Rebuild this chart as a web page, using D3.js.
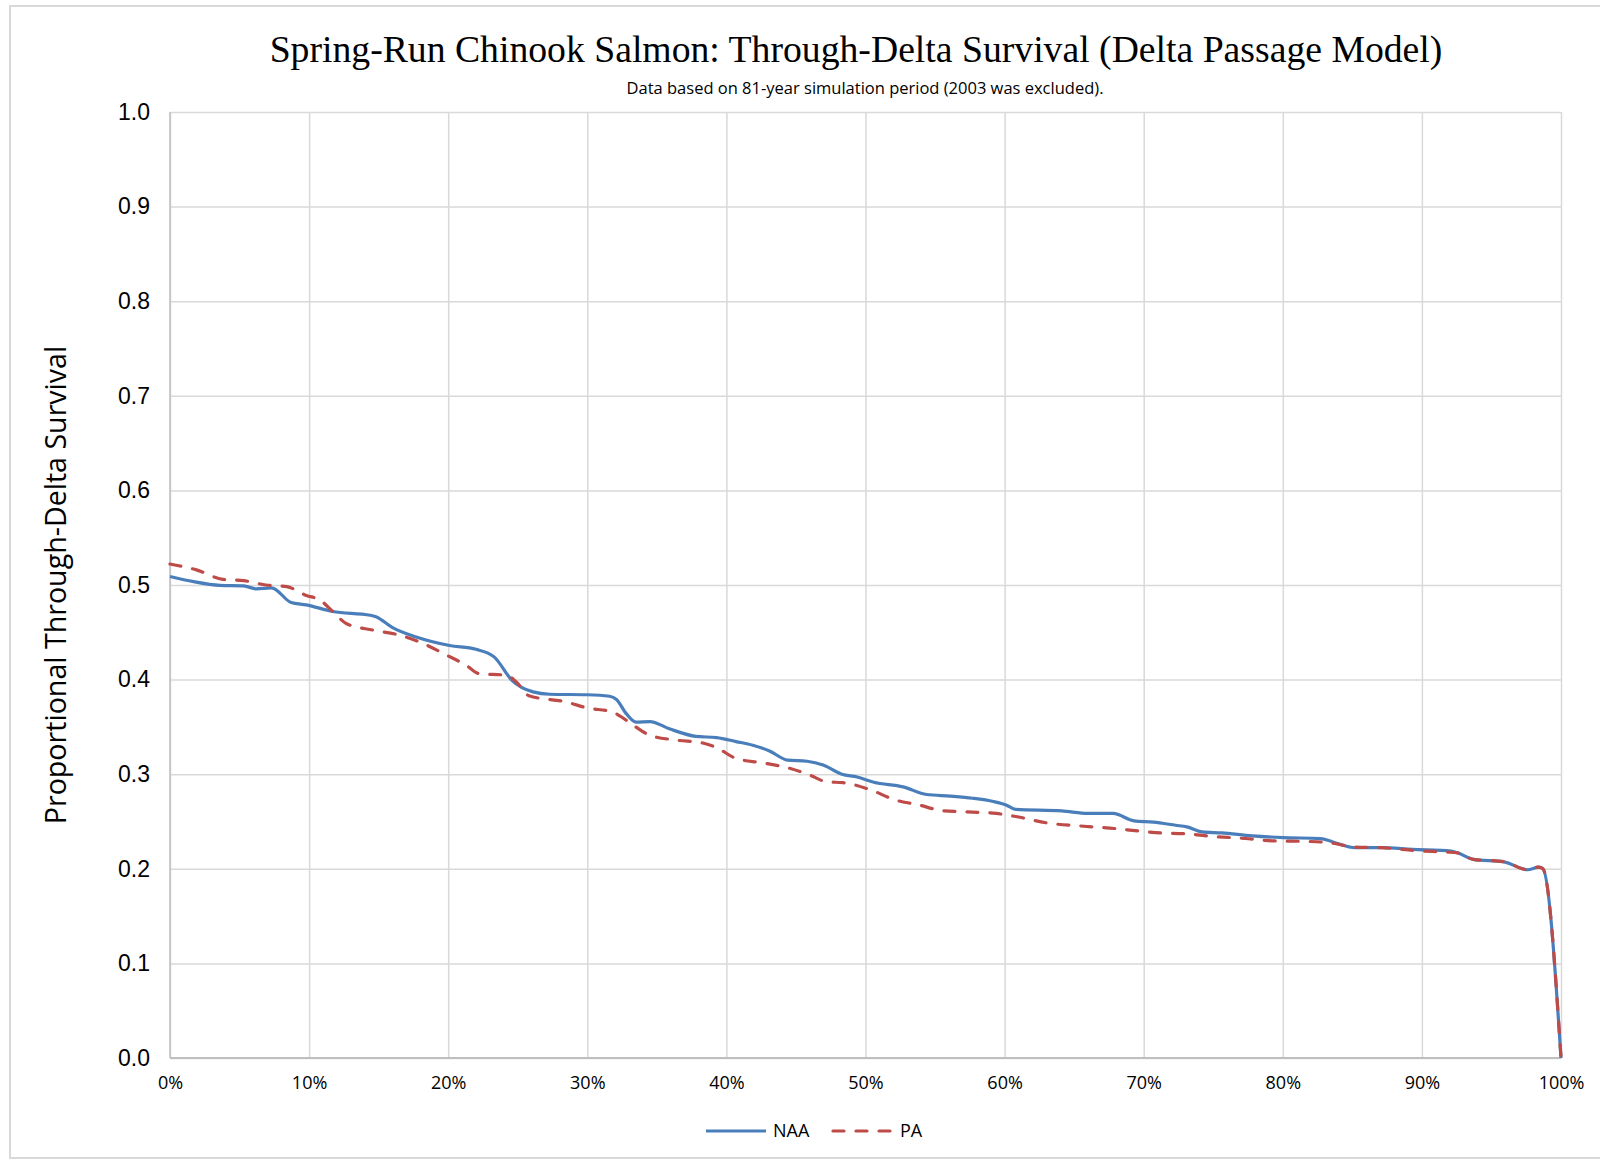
<!DOCTYPE html>
<html>
<head>
<meta charset="utf-8">
<script src="https://cdn.jsdelivr.net/npm/d3@7"></script>
<style>
  body { margin: 0; background: #fff; }
  .grid line { stroke: #d9d9d9; stroke-width: 1.5; }
  .grid path { display: none; }
</style>
</head>
<body>
<div id="chart"></div>
<script>
// exceedance (fraction of years) and survival
var naaPct = [0, 0.017, 0.036, 0.053, 0.062, 0.073, 0.087, 0.098, 0.117, 0.144, 0.148, 0.16, 0.177, 0.201, 0.22, 0.233, 0.246, 0.261, 0.273, 0.30, 0.316, 0.321, 0.328, 0.335, 0.345, 0.359, 0.378, 0.393, 0.407, 0.419, 0.431, 0.444, 0.458, 0.47, 0.483, 0.494, 0.506, 0.527, 0.544, 0.561, 0.577, 0.592, 0.601, 0.608, 0.641, 0.66, 0.678, 0.693, 0.707, 0.723, 0.731, 0.742, 0.756, 0.778, 0.80, 0.827, 0.836, 0.852, 0.871, 0.893, 0.921, 0.926, 0.937, 0.959, 0.976, 0.984, 0.987, 1.0];
var naaVal = [0.509, 0.5035, 0.4996, 0.499, 0.496, 0.497, 0.4816, 0.479, 0.472, 0.468, 0.4665, 0.455, 0.445, 0.436, 0.432, 0.424, 0.399, 0.387, 0.3845, 0.384, 0.3824, 0.379, 0.364, 0.355, 0.3556, 0.348, 0.340, 0.3387, 0.3345, 0.3306, 0.3246, 0.3148, 0.3137, 0.3095, 0.300, 0.297, 0.2915, 0.2866, 0.2785, 0.2768, 0.2746, 0.2711, 0.2675, 0.2628, 0.2613, 0.2585, 0.2585, 0.2507, 0.2493, 0.246, 0.2443, 0.239, 0.2379, 0.2348, 0.233, 0.232, 0.2284, 0.2223, 0.2223, 0.2206, 0.2188, 0.2167, 0.210, 0.2074, 0.199, 0.2018, 0.200, 0];

var paPct = [0, 0.019, 0.038, 0.053, 0.069, 0.084, 0.098, 0.108, 0.117, 0.127, 0.146, 0.165, 0.179, 0.199, 0.213, 0.222, 0.242, 0.249, 0.258, 0.285, 0.30, 0.318, 0.323, 0.333, 0.345, 0.364, 0.383, 0.393, 0.407, 0.426, 0.446, 0.46, 0.472, 0.484, 0.503, 0.522, 0.537, 0.556, 0.577, 0.594, 0.609, 0.63, 0.657, 0.679, 0.696, 0.712, 0.729, 0.745, 0.773, 0.795, 0.816, 0.833, 0.852, 0.871, 0.899, 0.918, 0.926, 0.937, 0.959, 0.976, 0.984, 0.987, 1.0];
var paVal = [0.5222, 0.516, 0.506, 0.5046, 0.500, 0.4982, 0.489, 0.484, 0.472, 0.459, 0.4523, 0.447, 0.440, 0.4258, 0.415, 0.4064, 0.4046, 0.3975, 0.383, 0.3763, 0.370, 0.3658, 0.362, 0.3518, 0.3412, 0.336, 0.333, 0.328, 0.3166, 0.312, 0.306, 0.299, 0.292, 0.291, 0.2838, 0.2725, 0.268, 0.2613, 0.260, 0.2585, 0.255, 0.2486, 0.245, 0.2426, 0.240, 0.2379, 0.2372, 0.2348, 0.232, 0.2294, 0.229, 0.2277, 0.223, 0.2223, 0.2188, 0.2177, 0.2167, 0.210, 0.2074, 0.199, 0.2018, 0.200, 0];

var xTicks = [0, 0.1, 0.2, 0.3, 0.4, 0.5, 0.6, 0.7, 0.8, 0.9, 1.0];
var yTicks = [0, 0.1, 0.2, 0.3, 0.4, 0.5, 0.6, 0.7, 0.8, 0.9, 1.0];
var seriesNames = ["NAA", "PA"];
var seriesColors = ["#4a7ebb", "#be4b48"];

function init() {
  var w = 1600;
  var h = 1160;
  var margin = { top: 112, right: 39, bottom: 102, left: 170 };
  var pw = w - margin.left - margin.right;
  var ph = h - margin.top - margin.bottom;

  var svg = d3.select("#chart")
    .append("svg")
    .attr("width", w)
    .attr("height", h);

  // outer chart border
  svg.append("rect")
    .attr("x", 10)
    .attr("y", 6)
    .attr("width", w)
    .attr("height", h - 8)
    .attr("fill", "none")
    .attr("stroke", "#d9d9d9")
    .attr("stroke-width", 2);

  //Set up Scales
  var xScale = d3.scaleLinear().domain([0, 1]).range([0, pw]);
  var yScale = d3.scaleLinear().domain([0, 1]).range([ph, 0]);

  var g = svg.append("g")
    .attr("transform", "translate(" + margin.left + "," + margin.top + ")");

  // gridlines
  g.append("g")
    .attr("class", "grid")
    .call(d3.axisLeft(yScale).tickValues(yTicks).tickSize(-pw).tickFormat(""));
  g.append("g")
    .attr("class", "grid")
    .attr("transform", "translate(0," + ph + ")")
    .call(d3.axisBottom(xScale).tickValues(xTicks).tickSize(-ph).tickFormat(""));

  // axis lines
  g.append("line")
    .attr("x1", 0).attr("x2", pw)
    .attr("y1", ph).attr("y2", ph)
    .attr("stroke", "#bfbfbf").attr("stroke-width", 2);
  g.append("line")
    .attr("x1", 0).attr("x2", 0)
    .attr("y1", 0).attr("y2", ph)
    .attr("stroke", "#bfbfbf").attr("stroke-width", 1.5);

  // y tick labels
  var yAxis = g.append("g")
    .call(d3.axisLeft(yScale).tickValues(yTicks).tickSize(0).tickPadding(20).tickFormat(d3.format(".1f")));
  yAxis.select(".domain").remove();
  yAxis.selectAll("text")
    .attr("font-family", "Liberation Sans, Arial, sans-serif")
    .attr("font-size", "23px")
    .attr("fill", "#000");

  // x tick labels
  var xAxis = g.append("g")
    .attr("transform", "translate(0," + ph + ")")
    .call(d3.axisBottom(xScale).tickValues(xTicks).tickSize(0).tickPadding(18).tickFormat(d3.format(".0%")));
  xAxis.select(".domain").remove();
  xAxis.selectAll("text")
    .attr("font-family", "Open Sans, sans-serif")
    .attr("font-size", "18px")
    .attr("fill", "#000");

  // lines
  var naaData = naaPct.map(function (d, i) { return { x: d, y: naaVal[i] }; });
  var paData = paPct.map(function (d, i) { return { x: d, y: paVal[i] }; });

  var line = d3.line()
    .x(function (d) { return xScale(d.x); })
    .y(function (d) { return yScale(d.y); })
    .curve(d3.curveMonotoneX);

  g.append("path")
    .datum(naaData)
    .attr("d", line)
    .attr("fill", "none")
    .attr("stroke", seriesColors[0])
    .attr("stroke-width", 3.2)
    .attr("stroke-linejoin", "round");

  g.append("path")
    .datum(paData)
    .attr("d", line)
    .attr("fill", "none")
    .attr("stroke", seriesColors[1])
    .attr("stroke-width", 3.2)
    .attr("stroke-linecap", "round")
    .attr("stroke-dasharray", "11,12");

  // title
  svg.append("text")
    .attr("x", 856)
    .attr("y", 62)
    .attr("text-anchor", "middle")
    .attr("font-family", "Liberation Serif, Times New Roman, serif")
    .attr("font-size", "37.7px")
    .text("Spring-Run Chinook Salmon: Through-Delta Survival (Delta Passage Model)");

  svg.append("text")
    .attr("x", 865)
    .attr("y", 94)
    .attr("text-anchor", "middle")
    .attr("font-family", "Open Sans, sans-serif")
    .attr("font-size", "16.5px")
    .text("Data based on 81-year simulation period (2003 was excluded).");

  // y axis title
  svg.append("text")
    .attr("transform", "translate(66," + (margin.top + ph / 2) + ") rotate(-90)")
    .attr("text-anchor", "middle")
    .attr("font-family", "Open Sans, sans-serif")
    .attr("font-size", "28.6px")
    .text("Proportional Through-Delta Survival");

  // legend
  var legend = svg.selectAll(".legend")
    .data(seriesNames)
    .enter()
    .append("g")
    .attr("class", "legend")
    .attr("transform", function (d, i) {
      return "translate(" + (706 + i * 127) + ",1131)";
    });

  legend.append("line")
    .attr("x1", 0)
    .attr("x2", 60)
    .attr("stroke", function (d, i) { return seriesColors[i]; })
    .attr("stroke-width", 3.2)
    .attr("stroke-linecap", function (d, i) { return i === 1 ? "round" : "butt"; })
    .attr("stroke-dasharray", function (d, i) { return i === 1 ? "11,12" : null; });

  legend.append("text")
    .attr("x", 67)
    .attr("dy", "0.35em")
    .attr("font-family", "Open Sans, sans-serif")
    .attr("font-size", "18px")
    .text(function (d) { return d; });
}

window.onload = function () {
  init();
}
</script>
</body>
</html>
